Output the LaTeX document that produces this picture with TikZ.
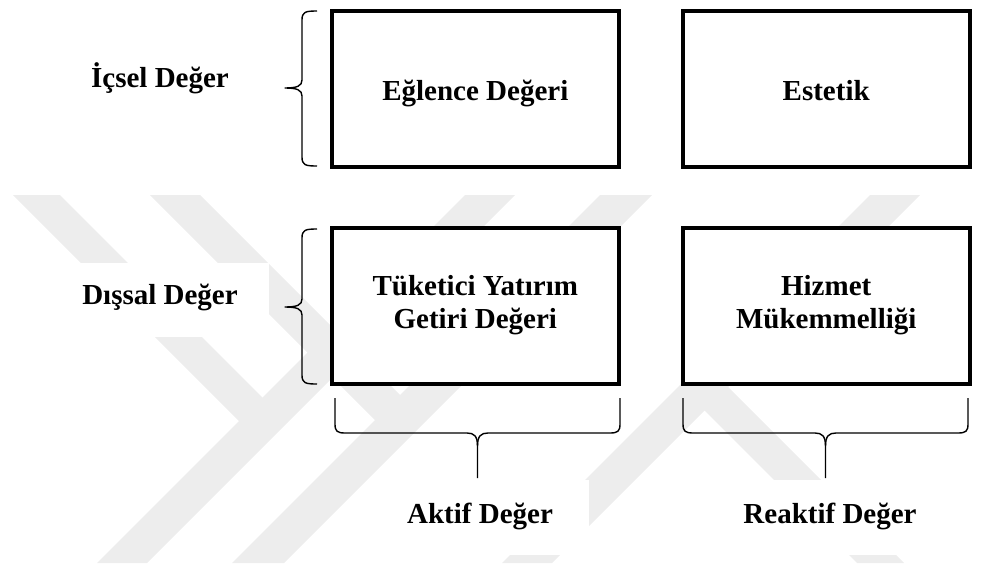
\documentclass[tikz,border=0pt]{standalone}
\usepackage{fontspec}
\setmainfont{Liberation Serif}
\definecolor{wmgray}{HTML}{EDEDED}
\newcommand{\lblfont}{\fontsize{29}{33}\selectfont\bfseries}
\begin{document}
\begin{tikzpicture}[x=1pt,y=-1pt,
  valuebox/.style={draw, line width=4pt, fill=white, minimum width=287pt,
    minimum height=156pt, inner sep=0pt},
  boxtext/.style={anchor=base, inner sep=0pt, align=center, font=\lblfont},
  axislabel/.style={anchor=base, inner sep=0pt, font=\lblfont},
  bracket/.style={line width=1.4pt, line join=round}]
\useasboundingbox (0,0) rectangle (982,570);

% light background emblem made of diagonal bands
\begin{scope}
  \clip (0,195) rectangle (982,563);
  \fill[wmgray] (13,195) -- (60,195) -- (287.5,422.5) -- (239,421) -- cycle;
  \fill[wmgray] (465,195) -- (515,195) -- (147,563) -- (97,563) -- cycle;
  \fill[wmgray] (150,195) -- (200,195) -- (426,421) -- (375,420) -- cycle;
  \fill[wmgray] (600,195) -- (652,195) -- (284,563) -- (232,563) -- cycle;
  \fill[wmgray] (870,195) -- (920,195) -- (552,563) -- (502,563) -- cycle;
  \fill[wmgray] (679.5,385.5) -- (728,387) -- (904,563) -- (857,563) -- cycle;
\end{scope}
% white panels behind the axis labels
\fill[white] (78,263) rectangle (269,337);
\fill[white] (369,480) rectangle (589,555);
\fill[white] (720,480) rectangle (952,555);

% the four value boxes
\node[valuebox] (eglence) at (475.3,89) {};
\node[valuebox] (estetik) at (826.2,89) {};
\node[valuebox] (yatirim) at (475.3,306) {};
\node[valuebox] (hizmet) at (826.2,306) {};
\node[boxtext] (eglence-t) at (475.3,100.5) {E\u{g}lence De\u{g}eri};
\node[boxtext] (estetik-t) at (826.2,100.5) {Estetik};
\node[boxtext] (yatirim-t) at (475.3,328) {Tüketici Yatırım\\Getiri De\u{g}eri};
\node[boxtext] (hizmet-t) at (826.2,328) {Hizmet\\Mükemmelli\u{g}i};

% row and column labels
\node[axislabel] (icsel) at (160,87) {İçsel De\u{g}er};
\node[axislabel] (dissal) at (160,304) {Dışsal De\u{g}er};
\node[axislabel] (aktif) at (480,523) {Aktif De\u{g}er};
\node[axislabel] (reaktif) at (830,523) {Reaktif De\u{g}er};

% left braces grouping the rows
\draw[bracket] (317,11) .. controls (305,11) and (302,12) .. (302,20)
  -- (302,80) .. controls (302,86) and (297,88) .. (285,88)
  .. controls (297,88) and (302,90) .. (302,96)
  -- (302,157) .. controls (302,165) and (305,166) .. (317,166);
\draw[bracket] (317,229) .. controls (305,229) and (302,230) .. (302,238)
  -- (302,299) .. controls (302,305) and (297,307) .. (285,307)
  .. controls (297,307) and (302,309) .. (302,315)
  -- (302,375) .. controls (302,383) and (305,384) .. (317,384);

% bottom braces grouping the columns
\draw[bracket] (335,398) -- (335,424) .. controls (335,431) and (337,433) .. (345,433)
  -- (467,433) .. controls (474,433) and (477.5,436) .. (477.5,446) -- (477.5,478);
\draw[bracket] (620,398) -- (620,424) .. controls (620,431) and (618,433) .. (610,433)
  -- (488,433) .. controls (481,433) and (477.5,436) .. (477.5,446);
\draw[bracket] (683,398) -- (683,424) .. controls (683,431) and (685,433) .. (693,433)
  -- (815,433) .. controls (822,433) and (825.5,436) .. (825.5,446) -- (825.5,478);
\draw[bracket] (968,398) -- (968,424) .. controls (968,431) and (966,433) .. (958,433)
  -- (836,433) .. controls (829,433) and (825.5,436) .. (825.5,446);
\end{tikzpicture}
\end{document}
